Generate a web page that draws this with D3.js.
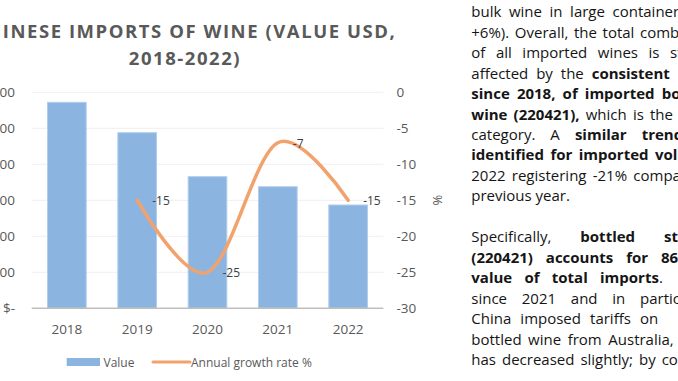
<!DOCTYPE html>
<html><head><meta charset="utf-8">
<script src="https://cdn.jsdelivr.net/npm/d3@7"></script>
<style>
html,body{margin:0;padding:0;background:#fff;overflow:hidden}
svg{display:block}
</style></head>
<body>
<svg id="c" width="678" height="381"></svg>
<script>
// ---- data ----
const categories = ["2018", "2019", "2020", "2021", "2022"];
const values = [2861, 2439, 1828, 1689, 1435];          // import value (USD millions, estimated)
const growth = [null, -15, -25, -7, -15];               // annual growth rate %
const leftTicks = [0, 500, 1000, 1500, 2000, 2500, 3000];
const rightTicks = [0, -5, -10, -15, -20, -25, -30];
const titleLines = ["CHINESE IMPORTS OF WINE (VALUE USD,", "2018-2022)"];
const legendLabels = ["Value", "Annual growth rate %"];

// paragraph on the right (segments: [text, bold])
const paraText = [
  [["bulk wine in large containers", 0]],
  [["+6%). Overall, the total combined", 0]],
  [["of all imported wines is strongly", 0]],
  [["affected by the ", 0], ["consistent", 1]],
  [["since 2018, of imported bottled", 1]],
  [["wine (220421),", 1], [" which is the", 0]],
  [["category. A ", 0], ["similar trend", 1]],
  [["identified for imported volumes,", 1]],
  [["2022 registering -21% compared", 0]],
  [["previous year.", 0]],
  null,
  [["Specifically, ", 0], ["bottled still", 1]],
  [["(220421) accounts for 86%", 1]],
  [["value of total imports", 1], [".", 0]],
  [["since 2021 and in particular", 0]],
  [["China imposed tariffs on", 0]],
  [["bottled wine from Australia,", 0]],
  [["has decreased slightly; by contrast", 0]]
];
const paraLastX = [612.5, 640, 670, 591.7, 661.7, 650, 641.7, 655, 633.3, null, null,
                   664, 661, 600, 640, 640, 608.3, 661.7];

// ---- layout ----
const svg = d3.select("#c");
const plotL = 31.7, plotR = 383.3, plotT = 92.3, plotB = 308.3;
const FONT = "'Open Sans', sans-serif";

const x = d3.scaleBand().domain(categories).range([plotL, plotR])
  .paddingInner(0.45).paddingOuter(0.225);
const yL = d3.scaleLinear().domain([0, 3000]).range([plotB, plotT]);
const yR = d3.scaleLinear().domain([-30, 0]).range([plotB, plotT]);

// gridlines
svg.append("g").selectAll("line").data(leftTicks.slice(1)).join("line")
  .attr("x1", plotL).attr("x2", plotR)
  .attr("y1", d => yL(d)).attr("y2", d => yL(d))
  .attr("stroke", "#EFEFEF").attr("stroke-width", 1);

// left axis labels
const fmtL = d => d === 0 ? "$-" : "$" + d3.format(",")(d);
svg.append("g").selectAll("text").data(leftTicks).join("text")
  .attr("x", 15).attr("y", d => yL(d) + 4.5)
  .attr("text-anchor", "end")
  .attr("font-family", FONT).attr("font-size", 13.5).attr("fill", "#595959")
  .text(fmtL);

// right axis labels
svg.append("g").selectAll("text").data(rightTicks).join("text")
  .attr("x", 396.5).attr("y", d => yR(d) + 4.5)
  .attr("font-family", FONT).attr("font-size", 13.5).attr("fill", "#595959")
  .text(d => d);

svg.append("text")
  .attr("transform", "translate(442,200) rotate(-90)")
  .attr("text-anchor", "middle")
  .attr("font-family", FONT).attr("font-size", 13).attr("fill", "#595959")
  .text("%");

// bars
svg.append("g").selectAll("rect").data(categories).join("rect")
  .attr("x", d => x(d)).attr("width", x.bandwidth())
  .attr("y", (d, i) => yL(values[i]))
  .attr("height", (d, i) => plotB - yL(values[i]))
  .attr("fill", "#8BB5E0").attr("stroke", "#B3CEEC").attr("stroke-width", 1);

// baseline
svg.append("line").attr("x1", plotL).attr("x2", plotR)
  .attr("y1", plotB).attr("y2", plotB)
  .attr("stroke", "#BFBFBF").attr("stroke-width", 1.5);

// x labels
svg.append("g").selectAll("text").data(categories).join("text")
  .attr("x", d => x(d) + x.bandwidth() / 2).attr("y", 333.5)
  .attr("text-anchor", "middle")
  .attr("font-family", FONT).attr("font-size", 13.5).attr("fill", "#595959")
  .text(d => d);

// growth line
const pts = categories.map((c, i) => ({c, v: growth[i]})).filter(d => d.v !== null);
const line = d3.line()
  .x(d => x(d.c) + x.bandwidth() / 2)
  .y(d => yR(d.v))
  .curve(d3.curveCardinal.tension(0));
svg.append("path").datum(pts).attr("d", line)
  .attr("fill", "none").attr("stroke", "#F2A26C").attr("stroke-width", 3.5)
  .attr("stroke-linecap", "round").attr("stroke-linejoin", "round");

// data labels
svg.append("g").selectAll("text").data(pts).join("text")
  .attr("x", d => x(d.c) + x.bandwidth() / 2 + 15)
  .attr("y", d => yR(d.v) + 5)
  .attr("font-family", FONT).attr("font-size", 12).attr("fill", "#404040")
  .text(d => d.v);

// title
svg.append("g").selectAll("text").data(titleLines).join("text")
  .attr("x", 185).attr("y", (d, i) => 38.3 + i * 26.7)
  .attr("text-anchor", "middle")
  .attr("font-family", FONT).attr("font-size", 18.5).attr("font-weight", 700)
  .attr("letter-spacing", 1.55).attr("fill", "#595959")
  .text(d => d);

// legend
const lg = svg.append("g");
lg.append("rect").attr("x", 66.7).attr("y", 358).attr("width", 33.3).attr("height", 8)
  .attr("fill", "#8BB5E0");
lg.append("text").attr("x", 103.5).attr("y", 366.5)
  .attr("font-family", FONT).attr("font-size", 12).attr("fill", "#595959").text(legendLabels[0]);
lg.append("line").attr("x1", 153).attr("x2", 190).attr("y1", 362).attr("y2", 362)
  .attr("stroke", "#F2A26C").attr("stroke-width", 3).attr("stroke-linecap", "round");
lg.append("text").attr("x", 191).attr("y", 366.5)
  .attr("font-family", FONT).attr("font-size", 12).attr("fill", "#595959").text(legendLabels[1]);

// paragraph (justified, clipped by the page edge)
const pg = svg.append("g").attr("font-family", FONT).attr("font-size", 15).attr("fill", "#151515");
const startX = 471.3;
const measure = pg.append("text").attr("x", -1000).attr("y", -1000);
function wordWidth(t, b) {
  measure.attr("font-weight", b ? 700 : 400).text(t);
  return measure.node().getComputedTextLength();
}
const spaceW = wordWidth("a a", 0) - wordWidth("aa", 0);
paraText.forEach((segs, li) => {
  if (!segs) return;
  const words = [];
  segs.forEach(([t, b], si) => {
    const parts = t.split(" ");
    parts.forEach((p, k) => {
      if (p === "") return;
      const glued = k === 0 && si > 0 && !t.startsWith(" ") && !segs[si - 1][0].endsWith(" ");
      if (glued && words.length) words[words.length - 1].pieces.push([p, b]);
      else words.push({pieces: [[p, b]]});
    });
  });
  words.forEach(w => w.w = d3.sum(w.pieces, p => wordWidth(p[0], p[1])));
  let gap = spaceW;
  const target = paraLastX[li];
  if (target !== null && words.length > 1) {
    const pre = d3.sum(words.slice(0, -1), w => w.w);
    gap = Math.max(spaceW * 0.8, (target - startX - pre) / (words.length - 1));
  }
  const txt = pg.append("text").attr("y", 17.3 + li * 20.45);
  let cx = startX;
  words.forEach(w => {
    let px = cx;
    w.pieces.forEach(([p, b]) => {
      txt.append("tspan").attr("x", px).attr("font-weight", b ? 700 : 400).text(p);
      px += wordWidth(p, b);
    });
    cx += w.w + gap;
  });
});
measure.remove();
</script>
</body></html>
